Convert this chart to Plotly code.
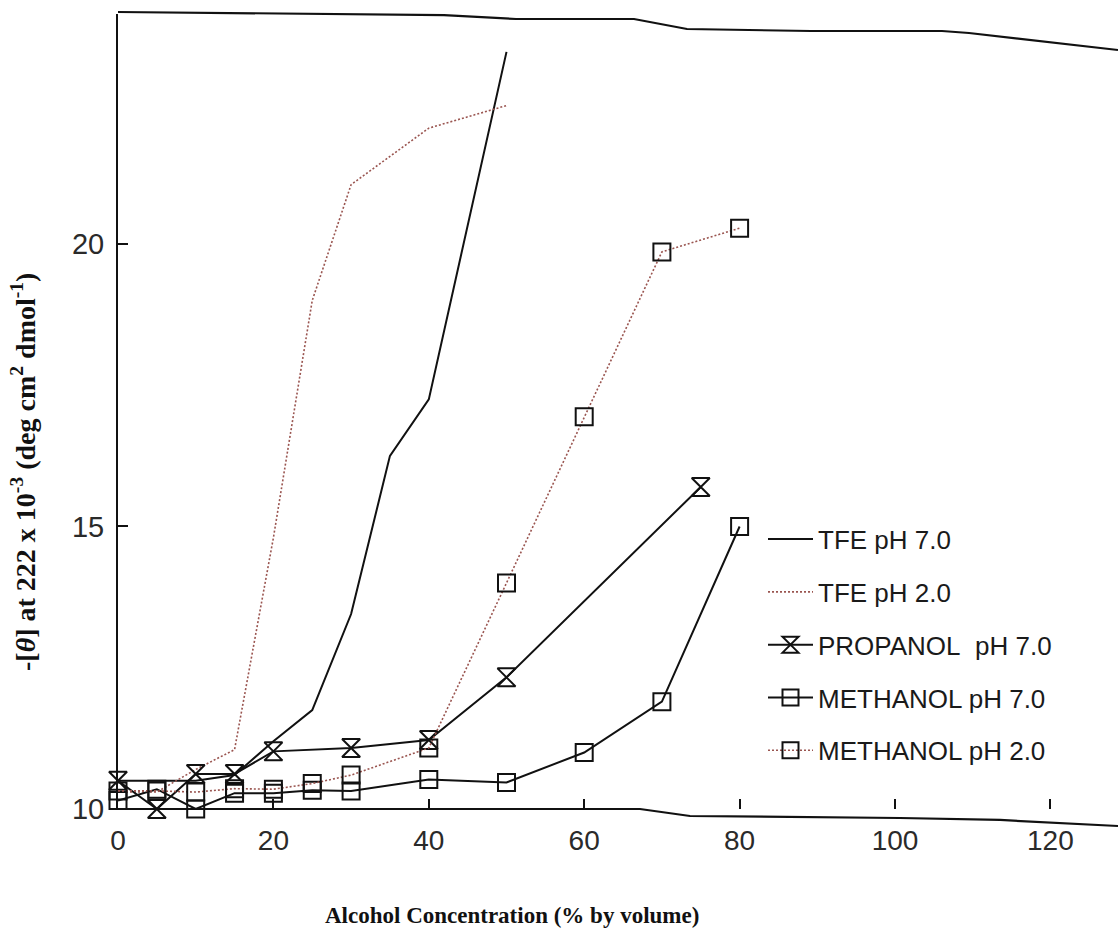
import plotly.graph_objects as go

# Alcohol concentration (% by volume) and -[theta]222 x 10^-3 values per series
tfe7_x = [0, 5, 10, 15, 20, 25, 30, 35, 40, 50]
tfe7_y = [10.5, 10.5, 10.5, 10.6, 11.2, 11.75, 13.45, 16.25, 17.25, 23.4]

tfe2_x = [0, 5, 10, 15, 20, 25, 30, 40, 50]
tfe2_y = [10.3, 10.3, 10.7, 11.05, 14.8, 19.0, 21.05, 22.05, 22.45]

prop7_x = [0, 5, 10, 15, 20, 30, 40, 50, 75]
prop7_y = [10.5, 10.0, 10.62, 10.62, 11.02, 11.08, 11.22, 12.33, 15.7]

meth7_x = [0, 5, 10, 15, 20, 25, 30, 40, 50, 60, 70, 80]
meth7_y = [10.15, 10.35, 10.0, 10.28, 10.28, 10.33, 10.32, 10.52, 10.47, 11.0, 11.9, 15.0]

meth2_x = [0, 5, 10, 15, 20, 25, 30, 40, 50, 60, 70, 80]
meth2_y = [10.32, 10.32, 10.3, 10.36, 10.35, 10.45, 10.6, 11.08, 14.0, 16.94, 19.86, 20.28]

x_ticks = [0, 20, 40, 60, 80, 100, 120]
y_ticks = [10, 15, 20]

INK = "#111111"
RED_DOT = "#9a5550"
SANS = "Liberation Sans, Arial, sans-serif"
SERIF = "Liberation Serif, Times New Roman, serif"

fig = go.Figure()

fig.add_trace(go.Scatter(
    x=tfe7_x, y=tfe7_y, mode="lines", name="TFE pH 7.0",
    legendgroup="a", line=dict(color=INK, width=2), cliponaxis=False))
fig.add_trace(go.Scatter(
    x=tfe2_x, y=tfe2_y, mode="lines", name="TFE pH 2.0",
    legendgroup="b", line=dict(color=RED_DOT, width=1.6, dash="2px,2px"),
    cliponaxis=False))
fig.add_trace(go.Scatter(
    x=prop7_x, y=prop7_y, mode="lines+markers", name="PROPANOL\u00a0\u00a0pH 7.0",
    legendgroup="c", line=dict(color=INK, width=2),
    marker=dict(symbol="hourglass-open", size=18, color=INK, line=dict(width=2, color=INK)),
    cliponaxis=False))
fig.add_trace(go.Scatter(
    x=meth7_x, y=meth7_y, mode="lines+markers", name="METHANOL pH 7.0",
    legendgroup="d", line=dict(color=INK, width=2),
    marker=dict(symbol="square-open", size=17, color=INK, line=dict(width=2, color=INK)),
    cliponaxis=False))
fig.add_trace(go.Scatter(
    x=meth2_x, y=meth2_y, mode="lines+markers", name="METHANOL pH 2.0",
    legendgroup="e", line=dict(color=RED_DOT, width=1.6, dash="2px,2px"),
    marker=dict(symbol="square-open", size=17, color=INK, line=dict(width=2, color=INK)),
    cliponaxis=False))

# slightly warped frame edges (top border and baseline) in paper coordinates
def to_paper(px, py):
    return (px - 118) / 1000.0, (809 - py) / 795.0

top_pts = [(118, 12), (444, 15), (516, 19), (634, 19), (687, 29),
           (811, 31), (942, 31), (969, 33), (1118, 50)]
bot_pts = [(118, 809), (640, 809), (690, 816), (900, 818), (1000, 820), (1118, 826)]

def path_of(pts):
    segs = []
    for i, (px, py) in enumerate(pts):
        x, y = to_paper(px, py)
        segs.append(("M" if i == 0 else "L") + f"{x:.4f},{y:.4f}")
    return " ".join(segs)

for pts in (top_pts, bot_pts):
    fig.add_shape(type="path", path=path_of(pts), xref="paper", yref="paper",
                  line=dict(color=INK, width=2.2), layer="above")

# axis titles
fig.add_annotation(
    text="<b>Alcohol Concentration (% by volume)</b>",
    xref="paper", yref="paper", x=(512 - 118) / 1000.0, y=(809 - 915) / 795.0,
    xanchor="center", yanchor="middle", showarrow=False,
    font=dict(family=SERIF, size=23, color=INK))
fig.add_annotation(
    text="<b>-[<i>θ</i>] at 222 x 10<sup>-3</sup> (deg cm<sup>2</sup> dmol<sup>-1</sup>)</b>",
    xref="paper", yref="paper", x=(23 - 118) / 1000.0, y=(809 - 472) / 795.0,
    xanchor="center", yanchor="middle", textangle=-90, showarrow=False,
    font=dict(family=SERIF, size=28, color=INK))

fig.update_layout(
    width=1118, height=951,
    margin=dict(l=118, r=0, t=14, b=142),
    paper_bgcolor="white", plot_bgcolor="white",
    showlegend=True,
    legend=dict(
        x=0.645, y=0.369, xanchor="left", yanchor="top",
        font=dict(family=SANS, size=26, color="#1a1a1a"),
        bgcolor="rgba(0,0,0,0)", tracegroupgap=16, itemwidth=45,
    ),
    xaxis=dict(
        range=[0, 128.7], tickvals=x_ticks, ticktext=[str(v) for v in x_ticks],
        ticks="inside", ticklen=10, tickwidth=1.5, tickcolor=INK,
        showline=False, showgrid=False, zeroline=False,
        ticklabelstandoff=12,
        tickfont=dict(family=SANS, size=28, color="#2a2a2a"),
    ),
    yaxis=dict(
        range=[10, 24.07], tickvals=y_ticks, ticktext=[str(v) for v in y_ticks],
        ticks="inside", ticklen=10, tickwidth=1.5, tickcolor=INK,
        showline=True, linecolor=INK, linewidth=2,
        showgrid=False, zeroline=False,
        ticklabelstandoff=6,
        tickfont=dict(family=SANS, size=29, color="#2a2a2a"),
    ),
)

fig.write_html("out.html")
